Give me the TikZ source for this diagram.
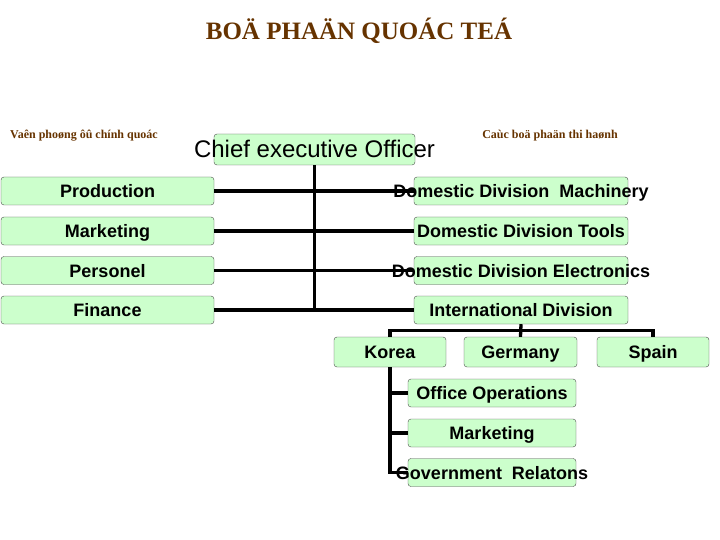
\documentclass[tikz,border=0pt]{standalone}
\usepackage{fontspec}
\setmainfont{Liberation Serif}
\setsansfont{Liberation Sans}
\usepackage{tikz}
\usetikzlibrary{calc}
\usetikzlibrary{positioning}
\definecolor{boxgreen}{HTML}{CCFFCC}
\definecolor{notebrown}{HTML}{663300}

\begin{document}
\begin{tikzpicture}[
            x=1pt, y=-1pt,
            box/.style={
                draw=black!70, fill=boxgreen, rounded corners=3pt,
                minimum width=214pt, minimum height=28pt, inner sep=0pt,
            },
            unit/.style={box, label={[caption]center:#1}},
            caption/.style={
                font=\sffamily\bfseries\fontsize{18}{20}\selectfont,
                text height=13pt, text depth=0pt,
            },
            note/.style={
                text=notebrown, font=\bfseries\fontsize{12}{14}\selectfont,
            },
            link/.style={line width=3.3pt, black},
        ]
            \useasboundingbox (0,0) rectangle (720,540);

            % --- headings ---
            \node[note, font=\bfseries\fontsize{25}{28}\selectfont] (title) at (359,31) {BOÄ PHAÄN QUOÁC TEÁ};
            \node[note] (staffnote) at (84,136) {Vaên phoøng ôû chính quoác};
            \node[note] (linenote) at (550,136) {Caùc boä phaän thi haønh};

            % --- chief ---
            \node[box, minimum width=201pt, minimum height=31pt,
                label={[caption, font=\sffamily\fontsize{24}{26}\selectfont, text height=17pt]center:Chief executive Officer}] (ceo) at (314.5,149.5) {};

            % --- staff units (left) ---
            \node[unit=Production, minimum width=213pt] (prod) at (107.5,191) {};
            \node[unit=Marketing, minimum width=213pt] (mkt) at (107.5,231) {};
            \node[unit=Personel, minimum width=213pt] (pers) at (107.5,270.5) {};
            \node[unit=Finance, minimum width=213pt] (fin) at (107.5,310) {};

            % --- line divisions (right) ---
            \node[unit=Domestic Division\ \ Machinery] (mach) at (521,191) {};
            \node[unit=Domestic Division Tools] (tools) at (521,231) {};
            \node[unit=Domestic Division Electronics] (elec) at (521,270.5) {};
            \node[unit=International Division] (intl) at (521,310) {};

            % --- countries ---
            \node[unit=Korea, minimum width=112pt, minimum height=30pt] (korea) at (390,352) {};
            \node[unit=Germany, minimum width=113pt, minimum height=30pt] (germany) at (520.5,352) {};
            \node[unit=Spain, minimum width=112pt, minimum height=30pt] (spain) at (653,352) {};

            % --- korea departments ---
            \node[unit=Office Operations, minimum width=168pt] (office) at (492,393) {};
            \node[unit=Marketing, minimum width=168pt] (kmkt) at (492,433) {};
            \node[unit=Government\ \ Relatons, minimum width=168pt] (gov) at (492,472.5) {};

            % --- trunk from the chief ---
            \coordinate (trunk) at (ceo.south |- fin.east);
            \draw[link] (ceo.south) -- (trunk);
            \draw[link] (prod.east) -- (mach.west);
            \draw[link] (mkt.east) -- (tools.west);
            \draw[link] (pers.east) -- (elec.west);
            \draw[link] (fin.east) -- (intl.west);

            % --- international fork ---
            \coordinate (split) at ($(intl.south) + (0,6)$);
            \draw[link] (intl.south) -- (germany.north);
            \draw[link] (korea.north) |- (split) -| (spain.north);

            % --- korea comb ---
            \draw[link] (korea.south) |- (gov.west);
            \draw[link] (korea.south |- office.west) -- (office.west);
            \draw[link] (korea.south |- kmkt.west) -- (kmkt.west);
        \end{tikzpicture}
\end{document}
